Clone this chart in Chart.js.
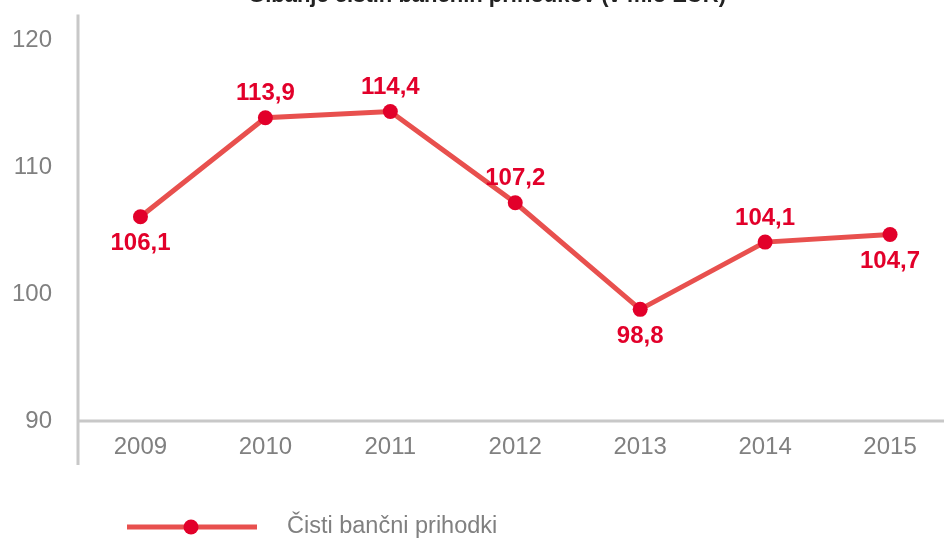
<!DOCTYPE html>
<html>
<head>
<meta charset="utf-8">
<script src="https://cdn.jsdelivr.net/npm/chart.js@4.4.1/dist/chart.umd.min.js"></script>
<style>
  html, body { margin: 0; padding: 0; background: #fff; overflow: hidden; }
  #wrap { width: 960px; height: 539px; position: relative; }
</style>
</head>
<body>
<div id="wrap"><canvas id="chart"></canvas></div>
<script>
// podatki
const years = ["2009", "2010", "2011", "2012", "2013", "2014", "2015"];
const prihodki = [106.1, 113.9, 114.4, 107.2, 98.8, 104.1, 104.7];
const labelPos = ["below", "above", "above", "above", "below", "above", "below"];
const yTicks = [90, 100, 110, 120];

const TITLE = "Gibanje čistih bančnih prihodkov (v mio EUR)";
const SERIES = "Čisti bančni prihodki";
const COLORS = { line: "#E8504E", point: "#E2002A", axis: "#C8C8C8", tick: "#808080" };
const FONT = "'Liberation Sans', Arial, sans-serif";

// naslov, osi, oznake vrednosti in legenda
const decorPlugin = {
  id: "decor",
  beforeDatasetsDraw(chart) {
    const { ctx, chartArea } = chart;
    ctx.save();
    ctx.strokeStyle = COLORS.axis;
    ctx.lineWidth = 3;
    ctx.beginPath();
    ctx.moveTo(chartArea.left, chartArea.top - 26);
    ctx.lineTo(chartArea.left, chartArea.bottom + 44);
    ctx.moveTo(chartArea.left, chartArea.bottom);
    ctx.lineTo(chart.width, chartArea.bottom);
    ctx.stroke();
    ctx.restore();
  },
  afterDatasetsDraw(chart) {
    const { ctx } = chart;
    const meta = chart.getDatasetMeta(0);
    ctx.save();
    ctx.fillStyle = COLORS.point;
    ctx.font = "bold 24px " + FONT;
    ctx.textAlign = "center";
    ctx.textBaseline = "middle";
    meta.data.forEach((pt, i) => {
      const txt = prihodki[i].toFixed(1).replace(".", ",");
      const dy = labelPos[i] === "above" ? -24 : 27;
      ctx.fillText(txt, pt.x, pt.y + dy);
    });

    // naslov (zgornji rob)
    ctx.fillStyle = "#222";
    ctx.font = "bold 22px " + FONT;
    ctx.textBaseline = "alphabetic";
    ctx.fillText(TITLE, 487, 2);

    // legenda
    ctx.strokeStyle = COLORS.line;
    ctx.lineWidth = 5;
    ctx.beginPath();
    ctx.moveTo(127, 527);
    ctx.lineTo(257, 527);
    ctx.stroke();
    ctx.fillStyle = COLORS.point;
    ctx.beginPath();
    ctx.arc(191, 527, 7.5, 0, Math.PI * 2);
    ctx.fill();
    ctx.fillStyle = COLORS.tick;
    ctx.font = "23.5px " + FONT;
    ctx.textAlign = "left";
    ctx.textBaseline = "middle";
    ctx.fillText(SERIES, 287, 527);
    ctx.restore();
  }
};

new Chart(document.getElementById("chart"), {
  type: "line",
  data: {
    labels: years,
    datasets: [{
      label: SERIES,
      data: prihodki,
      borderColor: COLORS.line,
      borderWidth: 5,
      pointRadius: 7.5,
      pointBackgroundColor: COLORS.point,
      pointBorderWidth: 0,
      tension: 0
    }]
  },
  options: {
    responsive: true,
    maintainAspectRatio: false,
    animation: false,
    layout: { padding: { top: 40, right: 0, bottom: 0, left: 0 } },
    plugins: { legend: { display: false }, tooltip: { enabled: false } },
    scales: {
      x: {
        offset: true,
        grid: { display: false, drawTicks: false },
        border: { display: false },
        ticks: { color: COLORS.tick, font: { family: FONT, size: 24 }, padding: 12, maxRotation: 0 },
        afterFit(scale) { scale.height = 118; }
      },
      y: {
        min: 90,
        max: 120,
        afterBuildTicks(scale) { scale.ticks = yTicks.map(v => ({ value: v })); },
        grid: { display: false, drawTicks: false },
        border: { display: false },
        ticks: { color: COLORS.tick, font: { family: FONT, size: 24 }, padding: 26 },
        afterFit(scale) { scale.width = 78; }
      }
    }
  },
  plugins: [decorPlugin]
});
</script>
</body>
</html>
